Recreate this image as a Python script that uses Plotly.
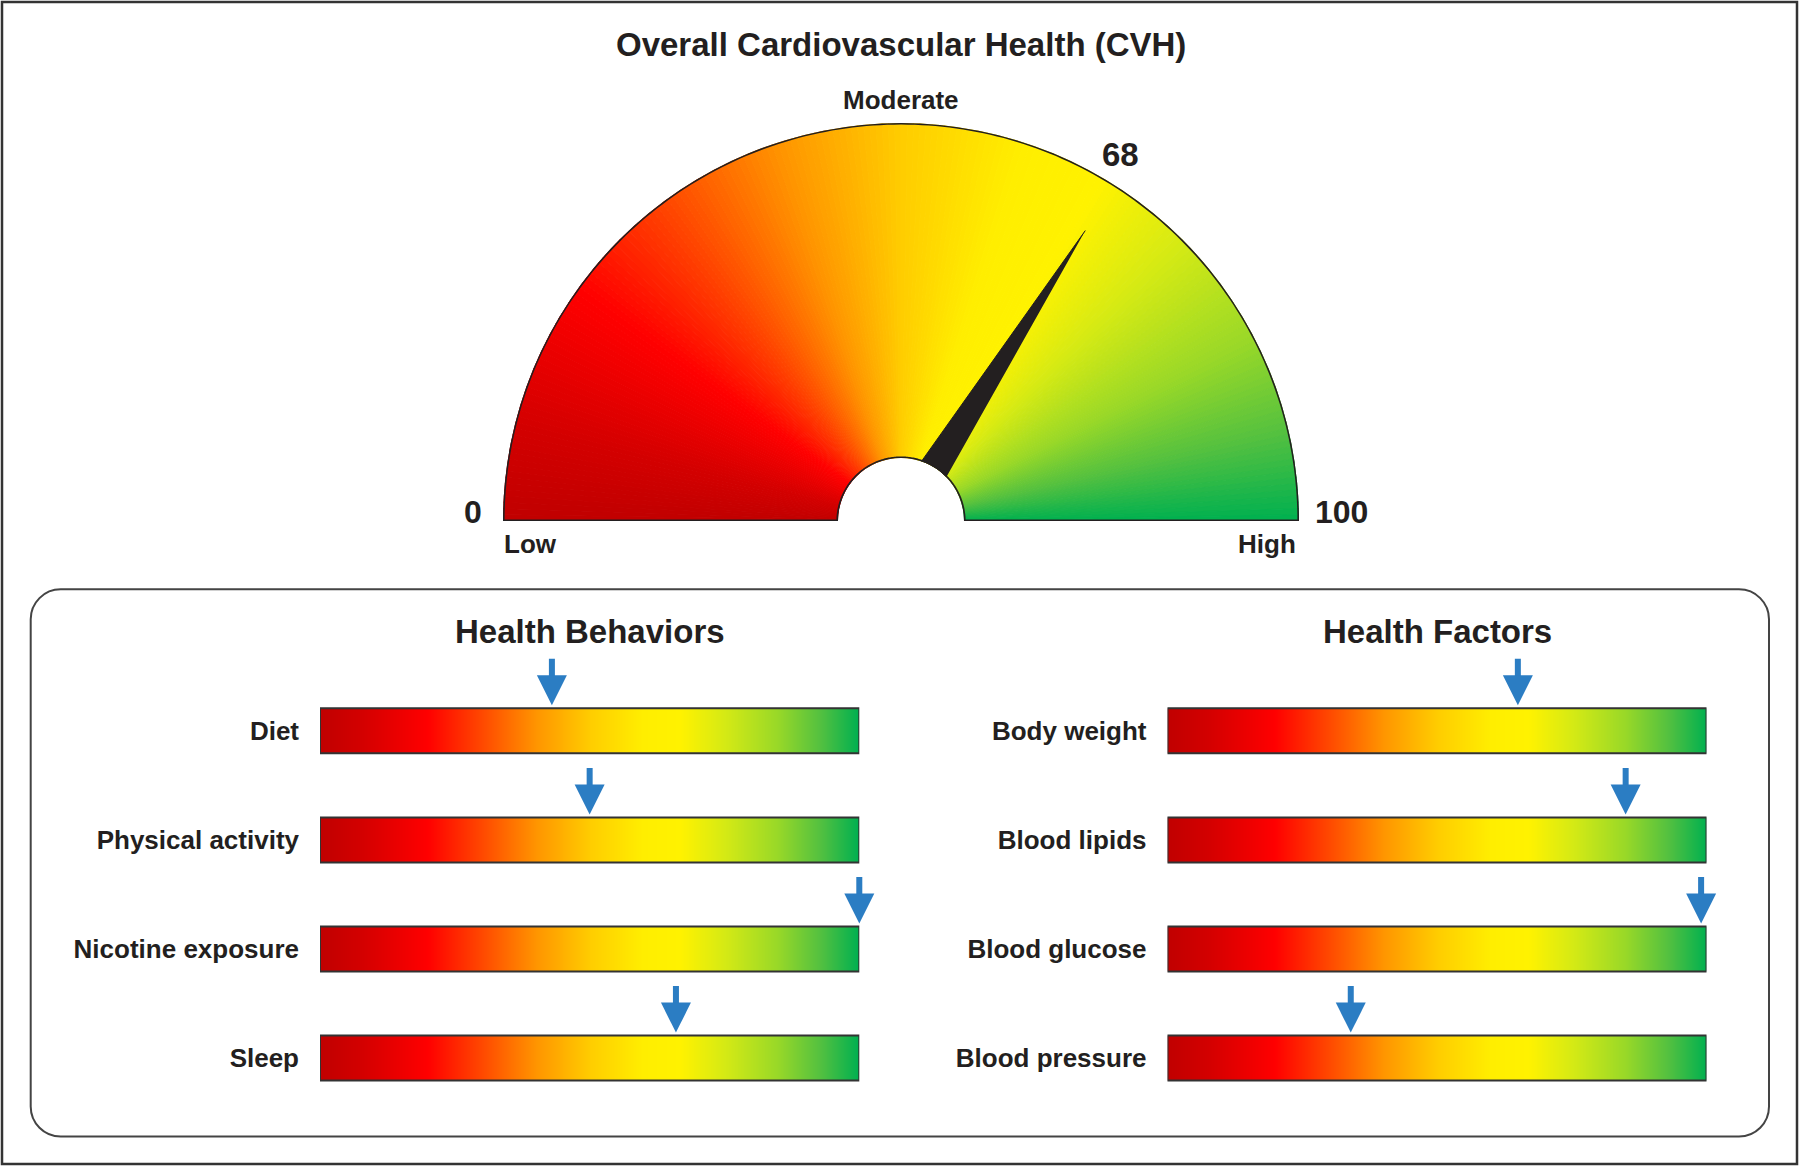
import numpy as np
import plotly.graph_objects as go

# ---------------- data ----------------
cvh_title = "Overall Cardiovascular Health (CVH)"
cvh_score = 68
gauge_min, gauge_max = 0, 100
gauge_low, gauge_mid, gauge_high = "Low", "Moderate", "High"

behaviors_title = "Health Behaviors"
behaviors = ["Diet", "Physical activity", "Nicotine exposure", "Sleep"]
behavior_values = [43, 50, 100, 66]

factors_title = "Health Factors"
factors = ["Body weight", "Blood lipids", "Blood glucose", "Blood pressure"]
factor_values = [65, 85, 99, 34]

# ---------------- style ----------------
W, H = 1800, 1167
INK = "#231f20"
ARROW = "#2b7dc3"
FONT = "Liberation Sans, Arial, Helvetica, sans-serif"
grad_pos = [0.00, 0.08, 0.20, 0.30, 0.40, 0.50, 0.60, 0.67, 0.75, 0.85, 0.93, 1.00]
grad_col = ["#c00000", "#d40000", "#ff0000", "#ff4800", "#ff9400", "#ffcc00",
            "#ffee00", "#fff200", "#d6ea14", "#98d828", "#52c040", "#00b050"]
colorscale = [[p, c] for p, c in zip(grad_pos, grad_col)]


def hex2rgb(h):
    h = h.lstrip("#")
    return [int(h[i:i + 2], 16) for i in (0, 2, 4)]


def sample(t):
    t = min(max(t, 0.0), 1.0)
    for i in range(len(grad_pos) - 1):
        if grad_pos[i] <= t <= grad_pos[i + 1]:
            f = (t - grad_pos[i]) / (grad_pos[i + 1] - grad_pos[i])
            a, b = hex2rgb(grad_col[i]), hex2rgb(grad_col[i + 1])
            c = [round(a[k] + (b[k] - a[k]) * f) for k in range(3)]
            return "rgb(%d,%d,%d)" % tuple(c)
    return grad_col[-1]


def px(x):
    return x / W


def py(y):
    return 1 - y / H


fig = go.Figure()

# ---------------- gauge (polar) ----------------
CX, CY, R, RH = 901, 521, 398, 63
deg_per_unit = 180.0 / (gauge_max - gauge_min)
nseg = 200
seg_vals = gauge_min + (np.arange(nseg) + 0.5) * (gauge_max - gauge_min) / nseg
seg_cols = [sample((v - gauge_min) / (gauge_max - gauge_min)) for v in seg_vals]
fig.add_trace(go.Barpolar(
    r=[1] * nseg, theta=list(seg_vals * deg_per_unit), width=[deg_per_unit * (gauge_max - gauge_min) / nseg] * nseg,
    marker=dict(color=seg_cols, line=dict(color=seg_cols, width=1)),
    hoverinfo="skip", showlegend=False, subplot="polar"))

# needle
tip_r = (344 - RH) / (R - RH)
tv = (cvh_score - gauge_min) * deg_per_unit
half = 13.5
base_th = list(np.linspace(tv + half, tv - half, 12))
fig.add_trace(go.Scatterpolar(
    r=[0] * len(base_th) + [tip_r], theta=base_th + [tv],
    mode="lines", fill="toself", fillcolor=INK, line=dict(color=INK, width=1),
    hoverinfo="skip", showlegend=False, subplot="polar"))

# outline
arc = list(np.linspace(0, 180, 181))
fig.add_trace(go.Scatterpolar(
    r=[1] * 181 + [0] * 181 + [1], theta=arc + arc[::-1] + [0],
    mode="lines", line=dict(color=INK, width=3.2),
    hoverinfo="skip", showlegend=False, subplot="polar"))

# ---------------- bars ----------------
bar_h = 45 / 109.1
ncol = 540
edges = list(np.linspace(0, 100, ncol + 1))
centers = [[(edges[i] + edges[i + 1]) / 2 for i in range(ncol)]]

shapes = []
annotations = []
for cats, vals, xa, ya in [(behaviors, behavior_values, "x", "y"),
                           (factors, factor_values, "x2", "y2")]:
    for i, (c, v) in enumerate(zip(cats, vals)):
        fig.add_trace(go.Heatmap(
            x=edges, y=[i - bar_h / 2, i + bar_h / 2], z=centers,
            colorscale=colorscale, zmin=0, zmax=100, showscale=False,
            hoverinfo="skip", xaxis=xa, yaxis=ya))
        shapes.append(dict(type="rect", xref=xa, yref=ya, x0=0, x1=100,
                           y0=i - bar_h / 2, y1=i + bar_h / 2,
                           line=dict(color="#333333", width=2), layer="above"))
        annotations.append(dict(xref=xa, yref=ya, x=v, y=i - bar_h / 2, text="",
                                showarrow=True, arrowhead=2, arrowsize=1, arrowwidth=6,
                                arrowcolor=ARROW, ax=0, ay=-51, standoff=3))

# ---------------- frames ----------------
shapes.append(dict(type="rect", xref="paper", yref="paper",
                   x0=px(2), x1=px(1797), y0=py(2), y1=py(1164),
                   line=dict(color="#333333", width=2.5), layer="below"))
x0, y0, x1, y1, r = 30.7, 589.3, 1769, 1136.5, 30
k = 0.5523 * r


def P(x, y):
    return "%.6f,%.6f" % (px(x), py(y))


path = ("M " + P(x0 + r, y0) + " L " + P(x1 - r, y0) +
        " C " + P(x1 - r + k, y0) + " " + P(x1, y0 + r - k) + " " + P(x1, y0 + r) +
        " L " + P(x1, y1 - r) +
        " C " + P(x1, y1 - r + k) + " " + P(x1 - r + k, y1) + " " + P(x1 - r, y1) +
        " L " + P(x0 + r, y1) +
        " C " + P(x0 + r - k, y1) + " " + P(x0, y1 - r + k) + " " + P(x0, y1 - r) +
        " L " + P(x0, y0 + r) +
        " C " + P(x0, y0 + r - k) + " " + P(x0 + r - k, y0) + " " + P(x0 + r, y0) + " Z")
shapes.append(dict(type="path", xref="paper", yref="paper", path=path,
                   line=dict(color="#444444", width=2), layer="below"))


# ---------------- texts ----------------
def txt(s, x, y, size, xanchor="center"):
    annotations.append(dict(xref="paper", yref="paper", x=px(x), y=py(y), text="<b>%s</b>" % s,
                            showarrow=False, xanchor=xanchor, yanchor="middle",
                            font=dict(size=size, color=INK, family=FONT)))


txt(cvh_title, 901, 44, 33)
txt(gauge_mid, 901, 100, 26)
txt(str(cvh_score), 1120, 154, 33)
txt(str(gauge_min), 472.7, 512, 32)
txt(str(gauge_max), 1341, 512, 32)
txt(gauge_low, 502, 544, 26, "left")
txt(gauge_high, 1297.5, 544, 26, "right")
txt(behaviors_title, 589.8, 631, 33)
txt(factors_title, 1437, 631, 33)

# ---------------- layout ----------------
ydom = [py(676.25 + 4 * 109.1), py(676.25)]
yax = dict(domain=ydom, range=[3.5, -0.5], tickvals=[0, 1, 2, 3], showgrid=False, zeroline=False,
           showline=False, ticks="", ticklabelstandoff=20,
           tickfont=dict(size=26, color=INK, family=FONT, weight="bold"))
xax = dict(range=[0, 100], visible=False, showgrid=False, zeroline=False)

fig.update_layout(
    width=W, height=H, margin=dict(l=0, r=0, t=0, b=0),
    paper_bgcolor="white", plot_bgcolor="rgba(0,0,0,0)",
    font=dict(family=FONT, color=INK),
    showlegend=False,
    polar=dict(domain=dict(x=[px(CX - R), px(CX + R)], y=[py(CY), py(CY - R)]),
               sector=[0, 180], hole=RH / R, bgcolor="rgba(0,0,0,0)",
               radialaxis=dict(range=[0, 1], visible=False),
               angularaxis=dict(visible=False, rotation=180, direction="clockwise")),
    xaxis=dict(domain=[px(320), px(859.3)], anchor="y", **xax),
    yaxis=dict(anchor="x", ticktext=behaviors, **yax),
    xaxis2=dict(domain=[px(1167.5), px(1706.5)], anchor="y2", **xax),
    yaxis2=dict(anchor="x2", ticktext=factors, **yax),
    shapes=shapes, annotations=annotations,
)

fig.write_html("out.html", config={"displayModeBar": False},
               post_script="document.body.style.margin='0';document.body.style.overflow='hidden';")
